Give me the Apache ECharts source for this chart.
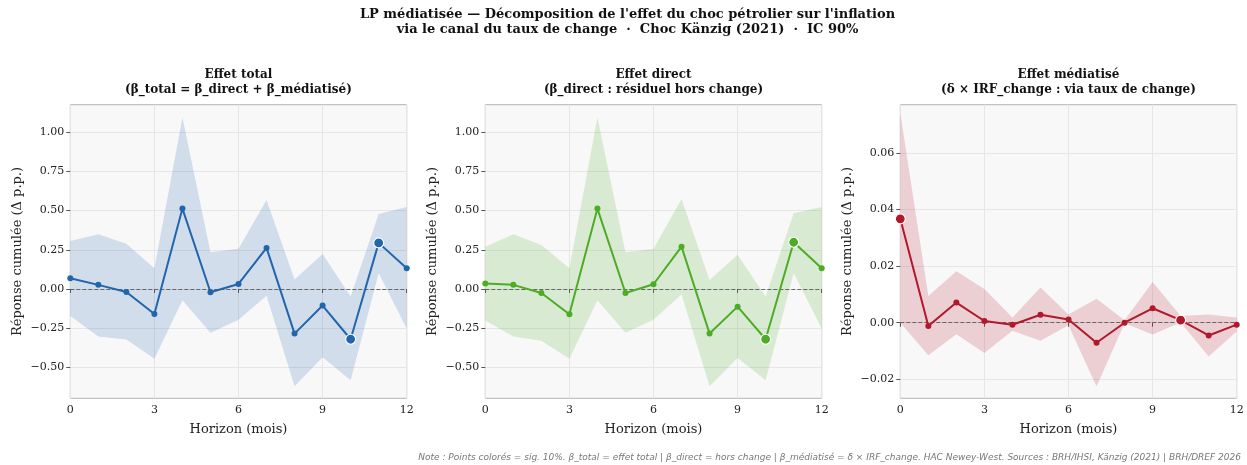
<!DOCTYPE html>
<html>
<head>
<meta charset="utf-8">
<script src="https://cdn.jsdelivr.net/npm/echarts@6/dist/echarts.min.js"></script>
<style>html,body{margin:0;padding:0;background:#fff;}#c{width:1247px;height:465px;}</style>
</head>
<body>
<div id="c"></div>
<script>
// ---- data ----
const horizons = [0,1,2,3,4,5,6,7,8,9,10,11,12];

const totalBeta = [0.068,0.026,-0.019,-0.160,0.513,-0.021,0.032,0.262,-0.285,-0.106,-0.321,0.294,0.132];
const totalLo   = [-0.172,-0.304,-0.323,-0.445,-0.072,-0.279,-0.196,-0.043,-0.621,-0.436,-0.583,0.100,-0.253];
const totalHi   = [0.306,0.349,0.289,0.132,1.094,0.234,0.257,0.568,0.060,0.223,-0.049,0.479,0.523];
const totalSig  = [0,0,0,0,0,0,0,0,0,0,1,1,0];

const directBeta = [0.034,0.026,-0.026,-0.162,0.513,-0.026,0.030,0.270,-0.285,-0.113,-0.321,0.298,0.132];
const directLo   = [-0.202,-0.304,-0.330,-0.445,-0.072,-0.279,-0.196,-0.036,-0.621,-0.440,-0.583,0.100,-0.253];
const directHi   = [0.270,0.349,0.281,0.132,1.094,0.234,0.257,0.574,0.057,0.219,-0.049,0.483,0.523];
const directSig  = [0,0,0,0,0,0,0,0,0,0,1,1,0];

const medBeta = [0.0367,-0.0012,0.0071,0.0006,-0.0007,0.0028,0.0011,-0.0071,0.0000,0.0051,0.0009,-0.0045,-0.0007];
const medLo   = [0.0000,-0.0115,-0.0041,-0.0107,-0.0028,-0.0064,-0.0009,-0.0225,-0.0002,-0.0042,0.0001,-0.0119,-0.0031];
const medHi   = [0.0741,0.0094,0.0182,0.0119,0.0018,0.0124,0.0029,0.0085,0.0009,0.0144,0.0024,0.0029,0.0018];
const medSig  = [1,0,0,0,0,0,0,0,0,0,1,0,0];

const xTicks = [0,3,6,9,12];
const yTicksBeta = [-0.5,-0.25,0,0.25,0.5,0.75,1.0];
const yTicksMed  = [-0.02,0,0.02,0.04,0.06];

const mainTitle = "LP médiatisée — Décomposition de l'effet du choc pétrolier sur l'inflation\nvia le canal du taux de change  ·  Choc Känzig (2021)  ·  IC 90%";
const panelTitles = [
  "Effet total\n(β_total = β_direct + β_médiatisé)",
  "Effet direct\n(β_direct : résiduel hors change)",
  "Effet médiatisé\n(δ × IRF_change : via taux de change)"
];
const yName = "Réponse cumulée (Δ p.p.)";
const xName = "Horizon (mois)";
const note = "Note : Points colorés = sig. 10%. β_total = effet total | β_direct = hors change | β_médiatisé = δ × IRF_change. HAC Newey-West. Sources : BRH/IHSI, Känzig (2021) | BRH/DREF 2026";

// ---- layout ----
const SERIF = "'DejaVu Serif', serif";
const gridLefts = [70.3, 485.3, 900.3];
const gridW = 336.4, gridTop = 104.7, gridH = 293.6;
const colors = ['#2166ac', '#4dac26', '#b2182b'];
const bands = ['rgba(33,102,172,0.18)', 'rgba(77,172,38,0.18)', 'rgba(178,24,43,0.18)'];
const panels = [
  {beta: totalBeta, lo: totalLo, hi: totalHi, sig: totalSig, ymin: -0.698, ymax: 1.176, ticks: yTicksBeta},
  {beta: directBeta, lo: directLo, hi: directHi, sig: directSig, ymin: -0.698, ymax: 1.176, ticks: yTicksBeta},
  {beta: medBeta, lo: medLo, hi: medHi, sig: medSig, ymin: -0.0267, ymax: 0.0770, ticks: yTicksMed}
];

function fmt(v){
  const s = Math.abs(v).toFixed(2);
  return (v < -1e-12 ? '\u2212' : '') + s;
}

const grid = [], xAxis = [], yAxis = [], series = [], graphic = [];
panels.forEach((p, i) => {
  grid.push({left: gridLefts[i], top: gridTop, width: gridW, height: gridH, show: true,
    backgroundColor: '#f8f8f8', borderColor: '#b5b5b5', borderWidth: 1, containLabel: false});
  xAxis.push({type: 'value', gridIndex: i, min: 0, max: 12, interval: 3,
    name: xName, nameLocation: 'middle', nameGap: 25,
    nameTextStyle: {fontFamily: SERIF, fontSize: 13, color: '#222'},
    axisLine: {show: false},
    axisTick: {show: true, inside: false, length: 4, lineStyle: {color: '#555'}},
    axisLabel: {fontFamily: SERIF, fontSize: 11, color: '#222', margin: 6},
    splitLine: {show: true, lineStyle: {color: '#e6e6e6', width: 1}}
  });
  yAxis.push({type: 'value', gridIndex: i, min: p.ymin, max: p.ymax,
    name: yName, nameLocation: 'middle', nameGap: 46,
    nameTextStyle: {fontFamily: SERIF, fontSize: 13, color: '#222'},
    axisLine: {show: false},
    axisTick: {show: true, inside: false, length: 4, lineStyle: {color: '#555'}, customValues: p.ticks},
    axisLabel: {fontFamily: SERIF, fontSize: 11, color: '#222', margin: 6, customValues: p.ticks, formatter: fmt},
    splitLine: {show: true, lineStyle: {color: '#e6e6e6', width: 1}}
  });
  // confidence band as a polygon through the axis scales
  series.push({type: 'custom', xAxisIndex: i, yAxisIndex: i, silent: true, z: 1,
    data: horizons.map((h, k) => [h, p.lo[k], p.hi[k]]),
    encode: {x: 0, y: [1, 2]},
    renderItem: function (params, api) {
      if (params.dataIndex !== 0) return null;
      const upper = horizons.map((h, k) => api.coord([h, p.hi[k]]));
      const lower = horizons.map((h, k) => api.coord([h, p.lo[k]])).reverse();
      return {type: 'polygon', shape: {points: upper.concat(lower)}, style: {fill: bands[i]}};
    }
  });
  series.push({type: 'line', xAxisIndex: i, yAxisIndex: i, z: 3,
    data: horizons.map((h, k) => ({
      value: [h, p.beta[k]],
      symbolSize: p.sig[k] ? 10 : 6,
      itemStyle: p.sig[k] ? {color: colors[i], borderColor: '#fff', borderWidth: 1.2} : {color: colors[i], borderWidth: 0}
    })),
    symbol: 'circle', showAllSymbol: true,
    lineStyle: {color: colors[i], width: 2},
    itemStyle: {color: colors[i]},
    markLine: {silent: true, symbol: 'none', label: {show: false}, z: 2,
      lineStyle: {color: '#666', type: [4, 2], width: 1}, data: [{yAxis: 0}]}
  });
  graphic.push({type: 'text', style: {x: gridLefts[i] + gridW / 2, y: 82.5, text: panelTitles[i],
    textAlign: 'center', textVerticalAlign: 'middle', fontFamily: SERIF, fontWeight: 'bold', fontSize: 12, lineHeight: 14.5, fill: '#111'}});
});
graphic.push({type: 'text', style: {x: 627.5, y: 22, text: mainTitle, textAlign: 'center', textVerticalAlign: 'middle',
  fontFamily: SERIF, fontWeight: 'bold', fontSize: 13, lineHeight: 15.5, fill: '#111'}});
graphic.push({type: 'text', style: {x: 1241, y: 458, text: note, textAlign: 'right', textVerticalAlign: 'middle',
  fontFamily: "'DejaVu Sans', sans-serif", fontStyle: 'italic', fontSize: 9, fill: '#777'}});

const chart = echarts.init(document.getElementById('c'), null, {renderer: 'canvas'});
chart.setOption({animation: false, grid, xAxis, yAxis, series, graphic});
</script>
</body>
</html>
